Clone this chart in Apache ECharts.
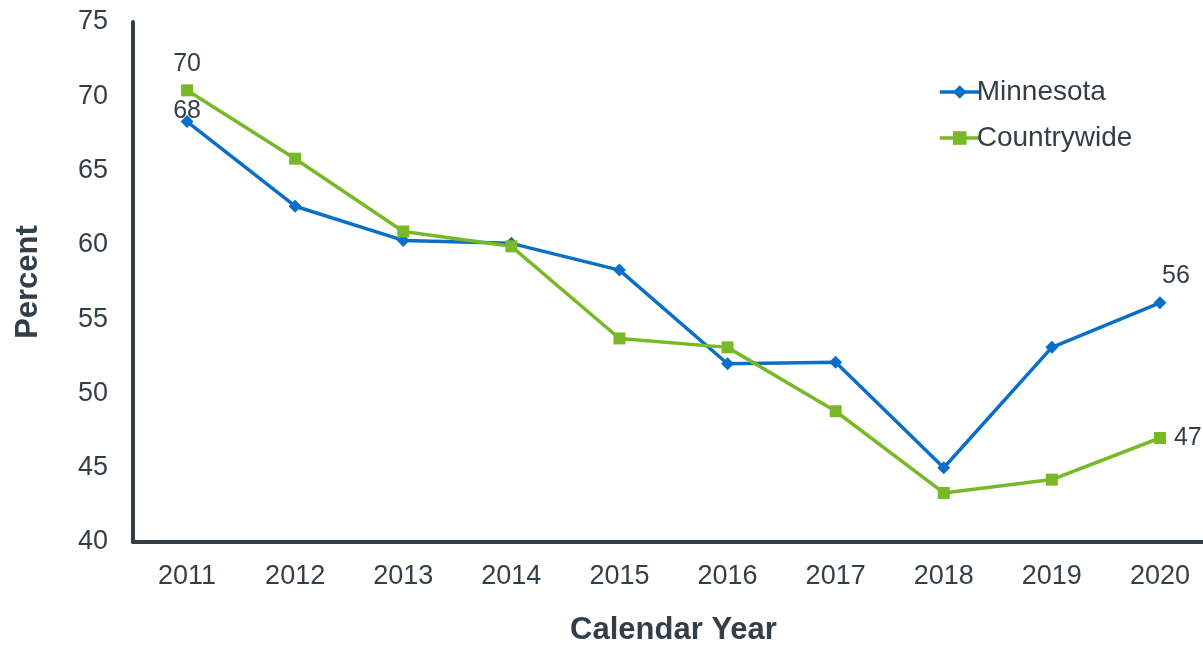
<!DOCTYPE html>
<html>
<head>
<meta charset="utf-8">
<script src="https://cdn.jsdelivr.net/npm/echarts@6/dist/echarts.min.js"></script>
<style>
  html, body { margin: 0; padding: 0; background: #fff; }
  #chart { width: 1203px; height: 645px; }
</style>
</head>
<body>
<div id="chart"></div>
<script>
const years = ['2011', '2012', '2013', '2014', '2015', '2016', '2017', '2018', '2019', '2020']
const minnesota = [68.3, 62.6, 60.3, 60.1, 58.3, 52.0, 52.1, 45.0, 53.1, 56.1]
const countrywide = [70.4, 65.8, 60.9, 59.9, 53.7, 53.1, 48.8, 43.3, 44.2, 47.0]

const textColor = '#333f48'
const font = 'Liberation Sans, Arial, sans-serif'

const labelBase = {
  show: true,
  formatter: (p) => Math.round(p.value),
  color: textColor,
  fontSize: 25,
  fontFamily: font
}

// first and last points carry a value label
const mnData = minnesota.map((v, i) => {
  if (i === 0) return { value: v, label: { ...labelBase, position: 'top', distance: -9 } }
  if (i === minnesota.length - 1) return { value: v, label: { ...labelBase, position: 'top', distance: 8, offset: [16, 0] } }
  return v
})
const cwData = countrywide.map((v, i) => {
  if (i === 0) return { value: v, label: { ...labelBase, position: 'top', distance: 8 } }
  if (i === countrywide.length - 1) return { value: v, label: { ...labelBase, position: 'right', distance: 8 } }
  return v
})

const chart = echarts.init(document.getElementById('chart'))

chart.setOption({
  animation: false,
  grid: {
    left: 133,
    right: -11,
    top: 22,
    bottom: 103,
    containLabel: false,
    outerBoundsMode: 'none'
  },
  legend: {
    orient: 'vertical',
    left: 933,
    top: 73,
    itemGap: 18,
    itemWidth: 40,
    itemHeight: 17,
    lineStyle: { width: 3.5 },
    textStyle: {
      color: textColor,
      fontSize: 28,
      fontFamily: font,
      padding: [0, 0, 0, -8]
    },
    data: ['Minnesota', 'Countrywide']
  },
  xAxis: {
    type: 'category',
    data: years,
    name: 'Calendar Year',
    nameLocation: 'middle',
    nameGap: 73,
    nameTextStyle: {
      color: textColor,
      fontSize: 31,
      fontWeight: 'bold',
      fontFamily: font
    },
    axisLine: { lineStyle: { color: textColor, width: 4 } },
    axisTick: { show: false },
    axisLabel: {
      color: textColor,
      fontSize: 27,
      fontFamily: font,
      margin: 21
    }
  },
  yAxis: {
    type: 'value',
    min: 40,
    max: 75,
    interval: 5,
    name: 'Percent',
    nameLocation: 'middle',
    nameGap: 89,
    nameTextStyle: {
      color: textColor,
      fontSize: 31,
      fontWeight: 'bold',
      fontFamily: font
    },
    axisLine: { show: true, lineStyle: { color: textColor, width: 4 } },
    axisTick: { show: false },
    splitLine: { show: false },
    axisLabel: {
      color: textColor,
      fontSize: 27,
      fontFamily: font,
      margin: 25
    }
  },
  series: [
    {
      name: 'Minnesota',
      type: 'line',
      data: mnData,
      symbol: 'diamond',
      symbolSize: 13,
      lineStyle: { color: '#0a6fc8', width: 3.5 },
      itemStyle: { color: '#0a6fc8' }
    },
    {
      name: 'Countrywide',
      type: 'line',
      data: cwData,
      symbol: 'rect',
      symbolSize: 12,
      lineStyle: { color: '#79b928', width: 3.5 },
      itemStyle: { color: '#79b928' }
    }
  ]
})
</script>
</body>
</html>
